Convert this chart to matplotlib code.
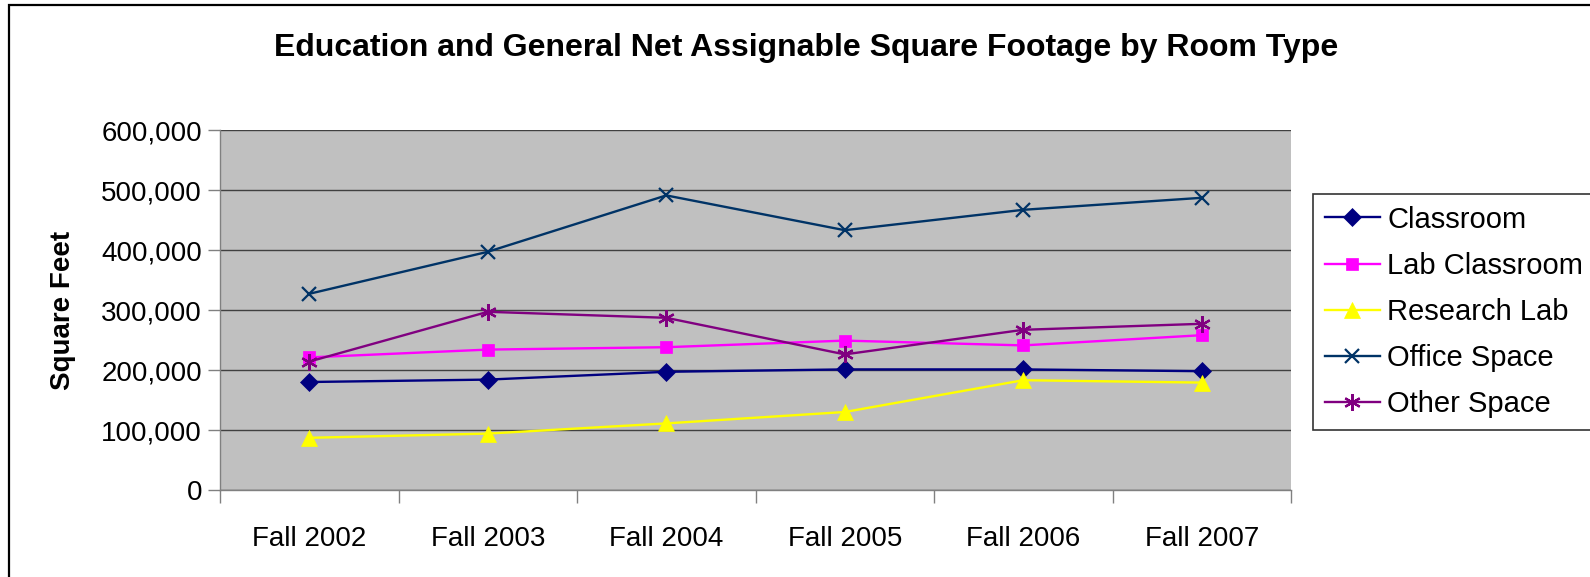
import matplotlib

matplotlib.use("Agg")
import matplotlib.pyplot as plt
import matplotlib.patches as mpatches
from matplotlib.ticker import FuncFormatter, FixedLocator

plt.rcParams["font.family"] = ["Liberation Sans", "DejaVu Sans"]

# data
YEARS = ["Fall 2002", "Fall 2003", "Fall 2004", "Fall 2005", "Fall 2006", "Fall 2007"]
CLASSROOM = [180000, 184000, 197000, 201000, 201000, 198000]
LAB_CLASSROOM = [221000, 234000, 238000, 249000, 241000, 258000]
RESEARCH_LAB = [87000, 94000, 111000, 130000, 183000, 179000]
OFFICE_SPACE = [327000, 397000, 491000, 433000, 467000, 487000]
OTHER_SPACE = [214000, 297000, 287000, 226000, 267000, 277000]

SERIES = [
    ("Classroom", CLASSROOM, "#000080", "D", 9),
    ("Lab Classroom", LAB_CLASSROOM, "#FF00FF", "s", 9),
    ("Research Lab", RESEARCH_LAB, "#FFFF00", "^", 11),
    ("Office Space", OFFICE_SPACE, "#003366", "x", 10),
    ("Other Space", OTHER_SPACE, "#800080", (6, 2, 0), 12),
]

W, H = 1590, 577
fig = plt.figure(figsize=(W / 100, H / 100), dpi=100)
ax = fig.add_axes([220 / W, 1 - 490 / H, (1291 - 220) / W, (490 - 130) / H])
ax.set_facecolor("#C0C0C0")

x = list(range(len(YEARS)))
for label, vals, color, marker, ms in SERIES:
    thin = marker == "x" or isinstance(marker, tuple)
    ax.plot(x, vals, color=color, lw=1.7, marker=marker, markersize=ms,
            markeredgewidth=1.6 if thin else 0.5,
            markerfacecolor=color, markeredgecolor=color, label=label, zorder=3)

ax.set_ylim(0, 600000)
ax.set_xlim(-0.5, len(YEARS) - 0.5)
ax.set_yticks(range(0, 600001, 100000))
ax.yaxis.set_major_formatter(FuncFormatter(lambda v, p: f"{int(v):,}"))
ax.grid(axis="y", color="#404040", lw=1.0, zorder=1)
ax.set_axisbelow(True)

ax.xaxis.set_major_locator(FixedLocator([i - 0.5 for i in range(len(YEARS) + 1)]))
ax.xaxis.set_minor_locator(FixedLocator(x))
ax.set_xticklabels([])
ax.set_xticklabels(YEARS, minor=True)
ax.tick_params(axis="x", which="minor", length=0, pad=26, labelsize=20)
ax.tick_params(axis="x", which="major", length=9, color="#808080", width=1)
ax.tick_params(axis="y", length=9, color="#808080", width=1, labelsize=20, pad=4)

for side in ("top", "right"):
    ax.spines[side].set_visible(False)
for side in ("left", "bottom"):
    ax.spines[side].set_color("#808080")
    ax.spines[side].set_linewidth(1)

ax.set_ylabel("Square Feet", fontsize=20, fontweight="bold", labelpad=18)

fig.text(806 / W, 1 - 48 / H, "Education and General Net Assignable Square Footage by Room Type",
         ha="center", va="center", fontsize=23, fontweight="bold")

leg = fig.legend(loc="upper left", bbox_to_anchor=(1313 / W, 1 - 194 / H),
                 fontsize=21, frameon=True, fancybox=False, borderpad=0.4,
                 labelspacing=0.62, handlelength=1.9, handletextpad=0.25,
                 borderaxespad=0)
leg.get_frame().set_edgecolor("#000000")
leg.get_frame().set_linewidth(1.2)

# outer chart border (cropped on right and bottom in the reference)
fig.patches.append(mpatches.Rectangle((9 / W, -0.1), 2.0, 1.1 - 5 / H,
                                      transform=fig.transFigure, fill=False,
                                      edgecolor="black", lw=1.6))

fig.savefig("out.png", dpi=100)
